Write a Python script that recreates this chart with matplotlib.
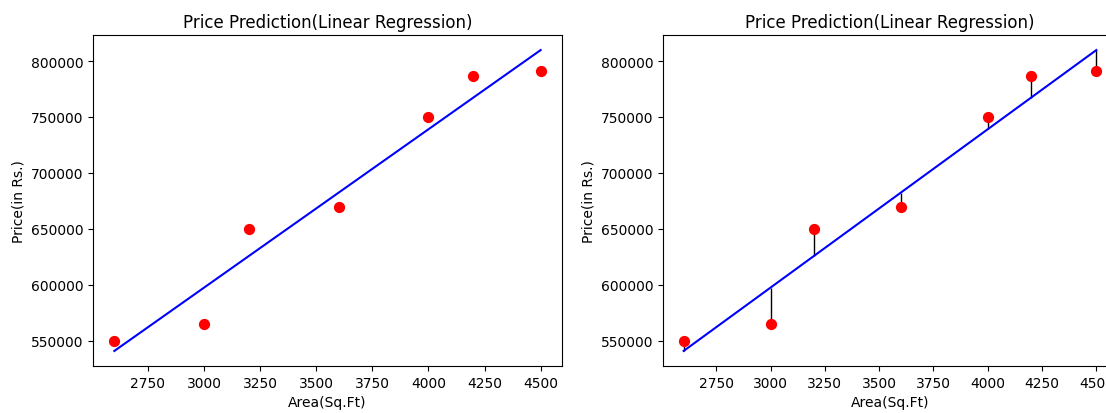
import matplotlib
matplotlib.use('Agg')
import matplotlib.pyplot as plt
import numpy as np

# data
area = [2600, 3000, 3200, 3600, 4000, 4200, 4500]
price = [550000, 565000, 650000, 670000, 750000, 787000, 791000]

title = 'Price Prediction(Linear Regression)'
xlabel = 'Area(Sq.Ft)'
ylabel = 'Price(in Rs.)'

# linear regression fit
x = np.array(area, dtype=float)
y = np.array(price, dtype=float)
m, c = np.polyfit(x, y, 1)
pred = m * x + c

fig = plt.figure(figsize=(11.06, 4.14), dpi=100)
W, H = 1106, 414
ax1 = fig.add_axes([93 / W, (H - 367) / H, 469 / W, 331 / H])
ax2 = fig.add_axes([663 / W, (H - 367) / H, 454 / W, 331 / H])

for ax in (ax1, ax2):
    ax.scatter(area, price, color='red', s=50, zorder=3)
    ax.plot(area, pred, color='blue', linewidth=1.5, zorder=2)
    ax.set_title(title)
    ax.set_xlabel(xlabel)
    ax.set_ylabel(ylabel)
    ax.set_xticks([2750, 3000, 3250, 3500, 3750, 4000, 4250, 4500])

# residuals
ax2.vlines(area, price, pred, color='black', linewidth=1, zorder=1)

fig.savefig('out.png', dpi=100)
